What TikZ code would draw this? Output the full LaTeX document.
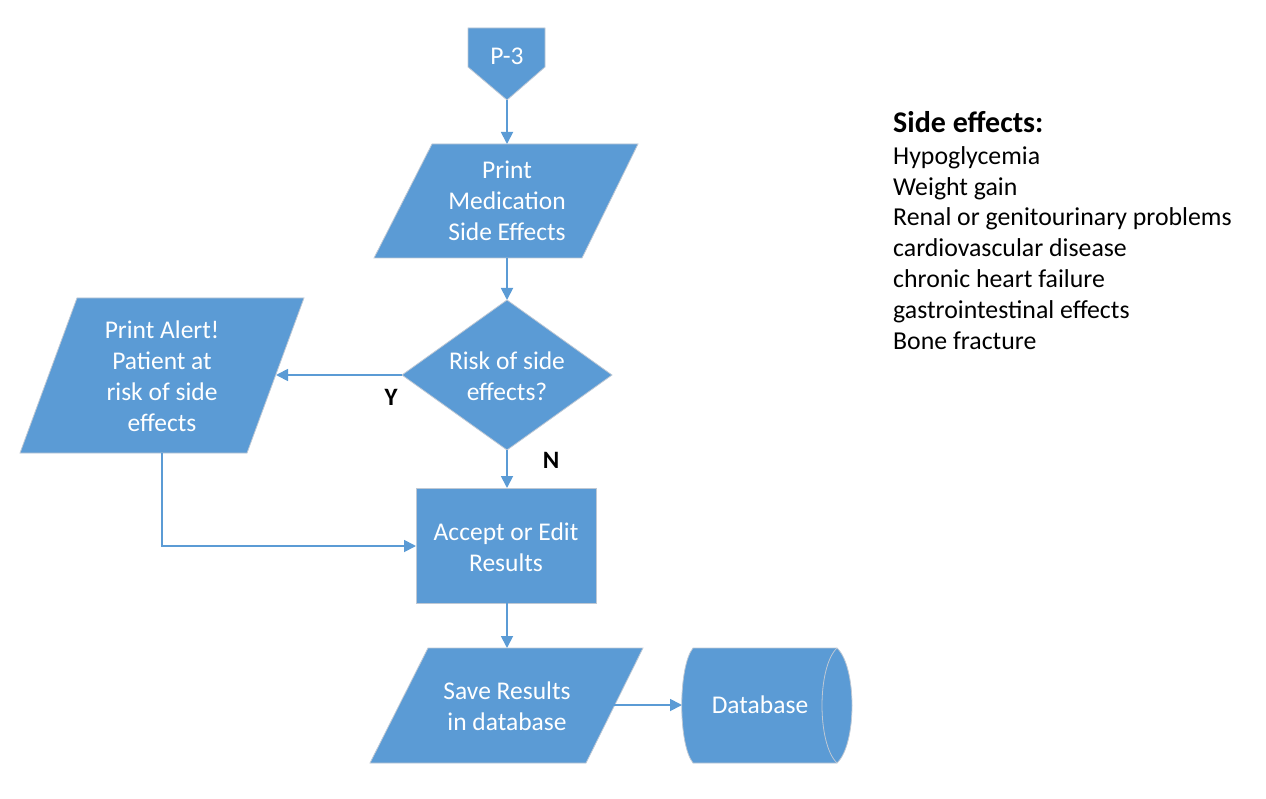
\documentclass[tikz,border=0pt]{standalone}
\usepackage{fontspec}
\setmainfont{Carlito}
\usetikzlibrary{arrows.meta}
\definecolor{boxblue}{RGB}{91,155,213}
\definecolor{edgegray}{RGB}{190,200,212}
\newcommand\nodefont{\fontsize{25.5}{31}\selectfont}
\newcommand\listfont{\fontsize{25.8}{31}\selectfont}
\tikzset{
  shapefill/.style={fill=boxblue, draw=edgegray, line width=0.8pt, line join=miter},
  boxtext/.style={text=white, font=\nodefont, align=center, inner sep=0pt},
  flow/.style={draw=boxblue, line width=1.8pt, -{Triangle[length=12pt,width=12pt]}},
  yn/.style={font=\fontsize{25}{28}\selectfont\bfseries, text=black, inner sep=0pt},
  listline/.style={font=\listfont, anchor=base west, inner sep=0pt, text=black},
}
\begin{document}
\begin{tikzpicture}[x=1pt,y=-1pt]
\useasboundingbox (0,0) rectangle (1266,799);
% P-3 off-page connector
\path[shapefill] (468,28) -- (545,28) -- (545,67) -- (507,100) -- (468,67) -- cycle;
\node[boxtext] (p3) at (507,56) {P-3};
\coordinate (p3bot) at (507,100);
% Print Medication Side Effects
\path[shapefill] (432,144) -- (638,144) -- (582,258) -- (374,258) -- cycle;
\node[boxtext] (print) at (507,201) {Print\\Medication\\Side Effects};
\coordinate (printtop) at (507,144);
\coordinate (printbot) at (507,258);
% Decision
\path[shapefill] (507,300) -- (612,375) -- (507,450) -- (402,375) -- cycle;
\node[boxtext] (risk) at (507,376) {Risk of side\\effects?};
\coordinate (risktop) at (507,300);
\coordinate (riskleft) at (402,375);
\coordinate (riskbot) at (507,450);
% Alert
\path[shapefill] (77,298) -- (304,298) -- (247,453) -- (20,453) -- cycle;
\node[boxtext] (alert) at (162,376) {Print Alert!\\Patient at\\risk of side\\effects};
\coordinate (alertright) at (276,375);
\coordinate (alertbot) at (162,453);
% Accept
\path[shapefill] (416,488) rectangle (596,603);
\node[boxtext] (accept) at (506,547) {Accept or Edit\\Results};
\coordinate (accepttop) at (507,488);
\coordinate (acceptleft) at (416,546);
\coordinate (acceptbot) at (507,603);
% Save
\path[shapefill] (428,648) -- (643,648) -- (586,763) -- (370,763) -- cycle;
\node[boxtext] (save) at (507,706) {Save Results\\in database};
\coordinate (savetop) at (507,648);
\coordinate (saveright) at (614,705);
% Database
\path[shapefill] (693,648) -- (837,648) .. controls (857,667) and (857,744) .. (837,763)
   -- (693,763) .. controls (678,744) and (678,667) .. (693,648) -- cycle;
\draw[edgegray, line width=0.8pt] (837,648) .. controls (817,667) and (817,744) .. (837,763);
\node[boxtext] (db) at (760,705) {Database};
\coordinate (dbleft) at (682,705);
% connectors
\draw[flow] (p3bot) -- (printtop);
\draw[flow] (printbot) -- (risktop);
\draw[flow] (riskleft) -- (alertright);
\draw[flow] (riskbot) -- (accepttop);
\draw[flow] (alertbot) |- (acceptleft);
\draw[flow] (acceptbot) -- (savetop);
\draw[flow] (saveright) -- (dbleft);
% labels
\node[yn] (ylab) at (391,397) {Y};
\node[yn] (nlab) at (551,460) {N};
% side effects list
\node[listline, font=\fontsize{30}{34}\selectfont\bfseries] (se0) at (893,133) {Side effects:};
\node[listline] (se1) at (893,165) {Hypoglycemia};
\node[listline] (se2) at (893,196) {Weight gain};
\node[listline] (se3) at (893,226) {Renal or genitourinary problems};
\node[listline] (se4) at (893,257) {cardiovascular disease};
\node[listline] (se5) at (893,288) {chronic heart failure};
\node[listline] (se6) at (893,319) {gastrointestinal effects};
\node[listline] (se7) at (893,350) {Bone fracture};
\end{tikzpicture}
\end{document}
